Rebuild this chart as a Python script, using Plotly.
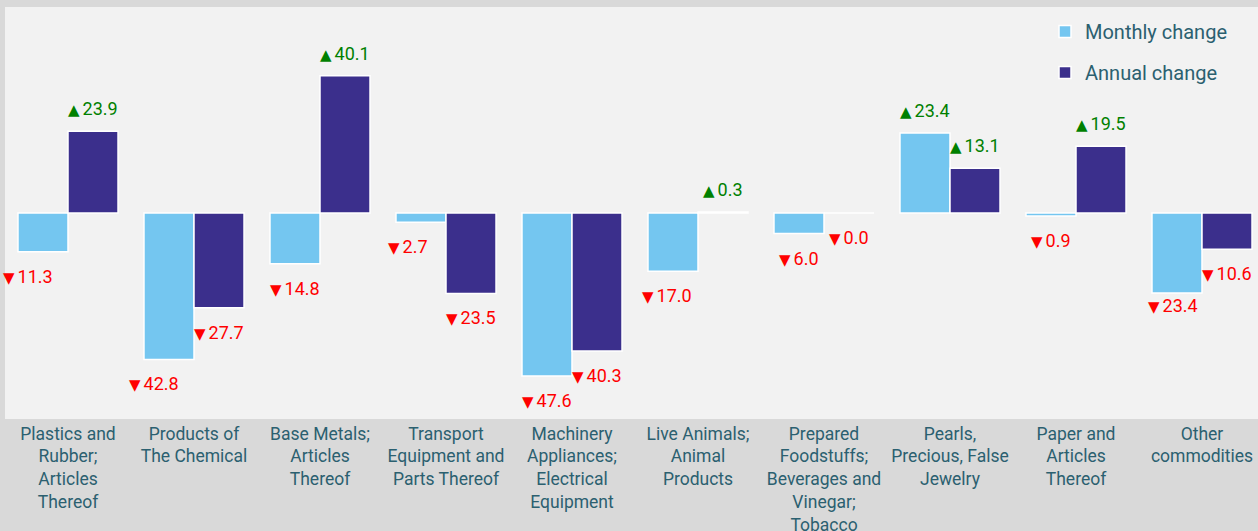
import numpy as np
import plotly.graph_objects as go

categories = [
    "Plastics and<br>Rubber;<br>Articles<br>Thereof",
    "Products of<br>The Chemical",
    "Base Metals;<br>Articles<br>Thereof",
    "Transport<br>Equipment and<br>Parts Thereof",
    "Machinery<br>Appliances;<br>Electrical<br>Equipment",
    "Live Animals;<br>Animal<br>Products",
    "Prepared<br>Foodstuffs;<br>Beverages and<br>Vinegar;<br>Tobacco",
    "Pearls,<br>Precious, False<br>Jewelry",
    "Paper and<br>Articles<br>Thereof",
    "Other<br>commodities",
]
monthly_change = [-11.3, -42.8, -14.8, -2.7, -47.6, -17.0, -6.0, 23.4, -0.9, -23.4]
annual_change = [23.9, -27.7, 40.1, -23.5, -40.3, 0.3, -0.0, 13.1, 19.5, -10.6]
series_names = ["Monthly change", "Annual change"]

# pixel nudges of the value labels, as placed in the original
monthly_label_dx = [-15, -15, 0, -13, 0, -6, 0, 0, 0, -4]
monthly_label_dy = [0, 0, 0, 0, 0, 0, 0, 0, 0, 12]
annual_label_dx = [0, 0, 0, 0, 0, 0, 0, 0, 0, 0]
annual_label_dy = [0, 0, 0, 0, 0, 0, 0, 0, 0, 0]

COLORS = ["#74C6F0", "#3B2F8C"]
TEXT_COLOR = "#2B6070"
FONT = "Roboto"
BARGAP = 0.206
YR = [-60.2, 60.2]
XR = [-0.5, -0.5 + 1253 / 126]

x = np.arange(len(categories))
fig = go.Figure()
for name, vals, col in zip(series_names, [monthly_change, annual_change], COLORS):
    fig.add_trace(go.Bar(
        x=x, y=vals, name=name, legendgroup=name,
        marker=dict(color=col, line=dict(color="white", width=1.5)),
        hoverinfo="skip",
    ))

bw = (1 - BARGAP) / 2
annotations = []
for k, (vals, dxs, dys) in enumerate([(monthly_change, monthly_label_dx, monthly_label_dy),
                                      (annual_change, annual_label_dx, annual_label_dy)]):
    off = (k - 0.5) * bw
    for i, v in enumerate(vals):
        neg = bool(np.signbit(v))
        arrow = "▼" if neg else "▲"
        txt = (f"<span style='font-family:DejaVu Sans;font-size:15px'>{arrow}\u2009</span>"
               f"{abs(v):.1f}")
        annotations.append(dict(
            x=i + off, y=v, xref="x", yref="y", text=txt, showarrow=False,
            yanchor="middle", xanchor="center",
            yshift=(-24.5 if neg else 22.5) + dys[i], xshift=dxs[i],
            font=dict(family=FONT, size=18, color="#FF0000" if neg else "#008000"),
        ))

fig.update_layout(
    width=1258, height=531,
    margin=dict(l=5, r=0, t=7, b=112),
    paper_bgcolor="#D9D9D9", plot_bgcolor="#F2F2F2",
    barmode="group", bargap=BARGAP, bargroupgap=0,
    font=dict(family=FONT, size=18, color=TEXT_COLOR),
    showlegend=True,
    legend=dict(
        x=(1045 - 5) / 1253, y=1 - (12 - 7) / 412, xanchor="left", yanchor="top",
        bgcolor="rgba(0,0,0,0)", font=dict(family=FONT, size=20, color=TEXT_COLOR),
        tracegroupgap=12, traceorder="grouped",
    ),
    xaxis=dict(
        range=XR, tickvals=list(x), ticktext=categories, showgrid=False,
        zeroline=False, showline=False, ticks="", ticklabelstandoff=2,
        automargin=False,
        tickfont=dict(family=FONT, size=17.5, color=TEXT_COLOR),
    ),
    xaxis2=dict(
        range=XR, overlaying="x", anchor="free", position=(0 - YR[0]) / (YR[1] - YR[0]),
        side="bottom", showline=True, linecolor="#8C8C8C", linewidth=2,
        ticks="outside", ticklen=5, tickwidth=2, tickcolor="#8C8C8C",
        tickvals=[i - 0.5 for i in range(len(categories) + 1)],
        showticklabels=False, showgrid=False, zeroline=False, automargin=False,
    ),
    yaxis=dict(range=YR, visible=False, showgrid=False, zeroline=False, automargin=False),
    annotations=annotations,
)

fig.write_html(
    "out.html",
    config={"displayModeBar": False},
    post_script="document.body.style.margin='0';document.body.style.overflow='hidden';",
)
